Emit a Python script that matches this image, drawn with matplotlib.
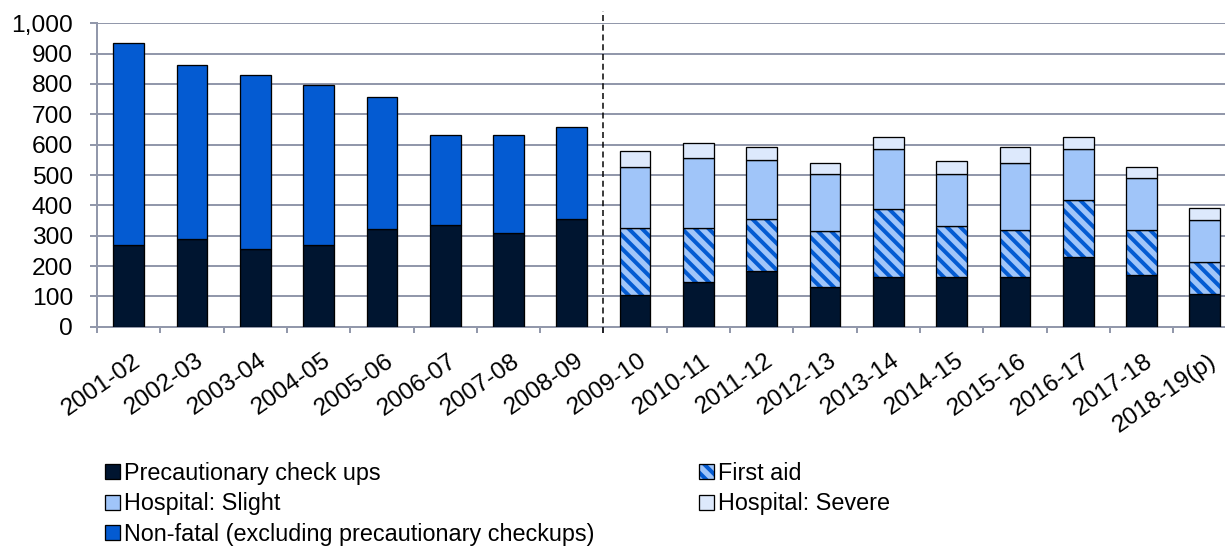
import numpy as np
import matplotlib
matplotlib.use("Agg")
import matplotlib.pyplot as plt
from matplotlib.patches import Patch
from matplotlib.ticker import FuncFormatter
from matplotlib.transforms import ScaledTranslation

# ---- data -------------------------------------------------------------
years = ["2001-02", "2002-03", "2003-04", "2004-05", "2005-06", "2006-07",
         "2007-08", "2008-09", "2009-10", "2010-11", "2011-12", "2012-13",
         "2013-14", "2014-15", "2015-16", "2016-17", "2017-18", "2018-19(p)"]

# 2001-02 .. 2008-09: two-way split
precautionary_early = [269, 289, 257, 269, 322, 334, 308, 354]
non_fatal = [665, 573, 572, 527, 434, 297, 323, 303]

# 2009-10 .. 2018-19(p): detailed split
precautionary_late = [104, 148, 182, 130, 163, 163, 163, 229, 169, 109]
first_aid = [222, 178, 172, 184, 224, 169, 157, 189, 151, 103]
hospital_slight = [199, 231, 197, 190, 198, 172, 218, 167, 171, 141]
hospital_severe = [53, 47, 40, 34, 40, 41, 53, 40, 34, 39]

# ---- style ------------------------------------------------------------
DPI = 80
W_PX, H_PX = 1225, 550
PT = 72 / DPI  # points per pixel

DARK = "#001530"
BLUE = "#045bd2"
SLIGHT = "#a0c5f9"
SEVERE = "#dde9fc"
GRID = "#9298ab"

plt.rcParams["font.family"] = ["Liberation Sans", "DejaVu Sans"]
plt.rcParams["hatch.linewidth"] = 4.0 * PT

fig = plt.figure(figsize=(W_PX / DPI, H_PX / DPI), dpi=DPI)
ax = fig.add_axes([97 / W_PX, 223.3 / H_PX, 1139.5 / W_PX, 303.4 / H_PX])

BW = 0.485
LW = 1.3 * PT
FS_TICK = 22
FS_LEG = 21

x_early = np.arange(len(precautionary_early))
x_late = np.arange(len(precautionary_early), len(years))

prec_e = np.array(precautionary_early)
ax.bar(x_early, prec_e, BW, color=DARK, edgecolor="black", lw=LW, zorder=3)
ax.bar(x_early, non_fatal, BW, bottom=prec_e, color=BLUE, edgecolor="black",
       lw=LW, zorder=3)

prec_l = np.array(precautionary_late)
fa = np.array(first_aid)
sl = np.array(hospital_slight)
sv = np.array(hospital_severe)

ax.bar(x_late, prec_l, BW, color=DARK, edgecolor="black", lw=LW, zorder=3)
# striped first-aid segment: hatch pass then outline pass
ax.bar(x_late, fa, BW, bottom=prec_l, color=SLIGHT, edgecolor=BLUE,
       hatch="\\\\", lw=0, zorder=3)
ax.bar(x_late, fa, BW, bottom=prec_l, fill=False, edgecolor="black",
       lw=LW, zorder=3)
ax.bar(x_late, sl, BW, bottom=prec_l + fa, color=SLIGHT, edgecolor="black",
       lw=LW, zorder=3)
ax.bar(x_late, sv, BW, bottom=prec_l + fa + sl, color=SEVERE,
       edgecolor="black", lw=LW, zorder=3)

# series break between the two recording periods
ax.plot([7.5, 7.5], [-21, 1039], color="black", lw=1.5 * PT,
        ls=(0, (4, 2.5)), clip_on=False, zorder=4)

# ---- axes -------------------------------------------------------------
ax.set_xlim(-0.5, len(years) - 0.5)
ax.set_ylim(0, 1000)
ax.set_yticks(np.arange(0, 1001, 100))
ax.yaxis.set_major_formatter(FuncFormatter(lambda v, _: f"{int(v):,}"))
ax.yaxis.grid(True, color=GRID, lw=2 * PT)
ax.set_axisbelow(True)

for s in ("top", "right"):
    ax.spines[s].set_visible(False)
for s in ("left", "bottom"):
    ax.spines[s].set_color(GRID)
    ax.spines[s].set_linewidth(2 * PT)

ax.tick_params(axis="y", length=7 * PT, width=2 * PT, color=GRID,
               pad=17 * PT, labelsize=FS_TICK)
ax.set_xticks(np.arange(len(years)))
ax.set_xticks(np.arange(-0.5, len(years), 1), minor=True)
ax.tick_params(axis="x", which="minor", length=6 * PT, width=2 * PT,
               color=GRID)
ax.tick_params(axis="x", which="major", length=0, pad=23 * PT,
               labelsize=FS_TICK)
ax.set_xticklabels(years, rotation=35, ha="right", va="top",
                   rotation_mode="anchor")
shift = ScaledTranslation(3 / DPI, 0, fig.dpi_scale_trans)
for lab in ax.get_xticklabels():
    lab.set_transform(lab.get_transform() + shift)

# ---- legend -----------------------------------------------------------
h_prec = Patch(facecolor=DARK, edgecolor="black", lw=LW)
h_fa = (Patch(facecolor=SLIGHT, edgecolor=BLUE, hatch="\\\\", lw=0),
        Patch(fill=False, edgecolor="black", lw=LW))
h_slight = Patch(facecolor=SLIGHT, edgecolor="black", lw=LW)
h_severe = Patch(facecolor=SEVERE, edgecolor="black", lw=LW)
h_nonfatal = Patch(facecolor=BLUE, edgecolor="black", lw=LW)

leg_kw = dict(loc="upper left", frameon=False, borderpad=0, borderaxespad=0,
              handlelength=0.63, handleheight=0.63, handletextpad=0.17,
              labelspacing=0.32, fontsize=FS_LEG)
fig.legend([h_prec, h_slight, h_nonfatal],
           ["Precautionary check ups", "Hospital: Slight",
            "Non-fatal (excluding precautionary checkups)"],
           bbox_to_anchor=(105 / W_PX, 1 - 462 / H_PX), **leg_kw)
fig.legend([h_fa, h_severe], ["First aid", "Hospital: Severe"],
           bbox_to_anchor=(699 / W_PX, 1 - 462 / H_PX), **leg_kw)

fig.savefig("out.png", dpi=DPI)
